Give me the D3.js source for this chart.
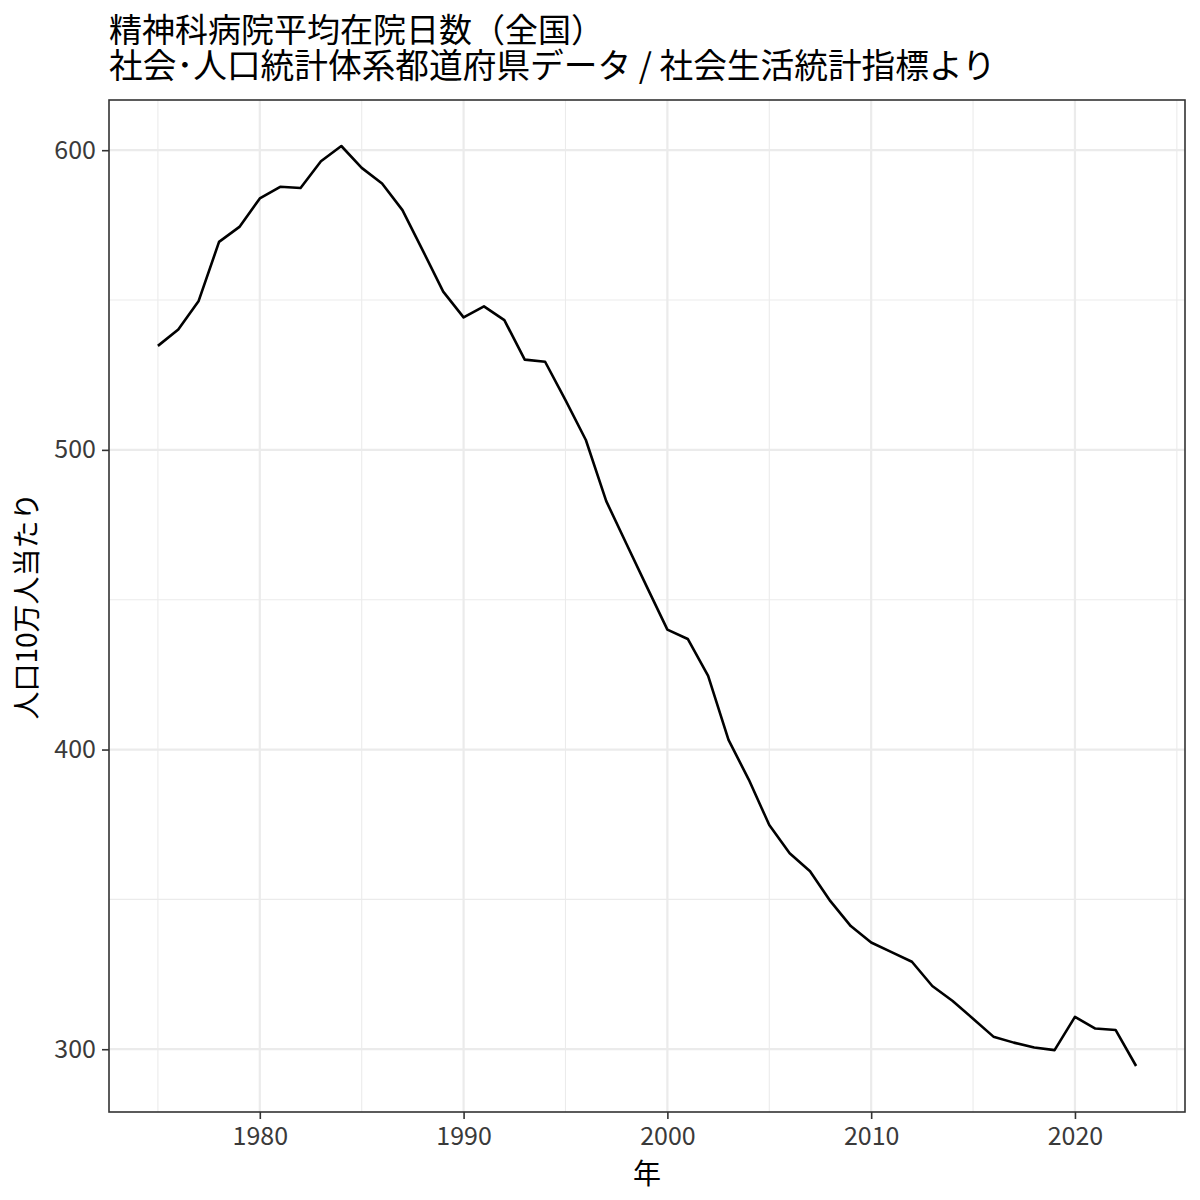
<!DOCTYPE html>
<html>
<head>
<meta charset="utf-8">
<script src="https://cdn.jsdelivr.net/npm/d3@7"></script>
<style>
  body { margin: 0; background: #fff; }
  text { font-family: "Noto Sans CJK JP", "Noto Sans", sans-serif; }
</style>
</head>
<body>
<div id="chart"></div>
<script>
const svgWidth = 1200;
const svgHeight = 1200;
const margin = {top: 100, right: 15, bottom: 88, left: 109};

const width = svgWidth - margin.left - margin.right;
const height = svgHeight - margin.top - margin.bottom;

// values
const years = [
    1975, 1976, 1977, 1978, 1979, 1980, 1981, 1982, 1983, 1984,
    1985, 1986, 1987, 1988, 1989, 1990, 1991, 1992, 1993, 1994,
    1995, 1996, 1997, 1998, 1999, 2000, 2001, 2002, 2003, 2004,
    2005, 2006, 2007, 2008, 2009, 2010, 2011, 2012, 2013, 2014,
    2015, 2016, 2017, 2018, 2019, 2020, 2021, 2022, 2023
];
const days = [
    534.7, 540.2, 549.7, 569.4, 574.4, 583.9, 587.8, 587.4, 596.3, 601.4,
    594.1, 588.9, 580.0, 566.5, 552.8, 544.2, 547.9, 543.3, 530.1, 529.4,
    516.6, 503.3, 482.9, 468.5, 454.2, 440.0, 436.9, 424.6, 403.2, 389.9,
    374.8, 365.4, 359.4, 349.4, 341.1, 335.6, 332.4, 329.2, 321.1, 316.1,
    310.2, 304.2, 302.2, 300.6, 299.7, 310.8, 306.9, 306.4, 294.4
];

const xMajor = [1980, 1990, 2000, 2010, 2020];
const xMinor = [1975, 1985, 1995, 2005, 2015, 2025];
const yMajor = [300, 400, 500, 600];
const yMinor = [350, 450, 550];

const titleLines = ["精神科病院平均在院日数（全国）", "社会･人口統計体系都道府県データ / 社会生活統計指標より"];
const xTitle = "年";
const yTitle = "人口10万人当たり";

// ggplot style 5% expansion of the data range
function expand(ext) {
    const pad = (ext[1] - ext[0]) * 0.05;
    return [ext[0] - pad, ext[1] + pad];
}

const x = d3.scaleLinear()
    .domain(expand(d3.extent(years)))
    .range([0, width]);

const y = d3.scaleLinear()
    .domain(expand(d3.extent(days)))
    .range([height, 0]);

const svg = d3.select("#chart")
    .append("svg")
    .attr("width", svgWidth)
    .attr("height", svgHeight);

const g = svg.append("g")
    .attr("transform", `translate(${margin.left},${margin.top})`);

// minor grid
g.selectAll(".xminor").data(xMinor).join("line")
    .attr("x1", d => x(d)).attr("x2", d => x(d))
    .attr("y1", 0).attr("y2", height)
    .attr("stroke", "#EBEBEB").attr("stroke-width", 1.1);
g.selectAll(".yminor").data(yMinor).join("line")
    .attr("x1", 0).attr("x2", width)
    .attr("y1", d => y(d)).attr("y2", d => y(d))
    .attr("stroke", "#EBEBEB").attr("stroke-width", 1.1);

// major grid
g.selectAll(".xmajor").data(xMajor).join("line")
    .attr("x1", d => x(d)).attr("x2", d => x(d))
    .attr("y1", 0).attr("y2", height)
    .attr("stroke", "#EBEBEB").attr("stroke-width", 2.2);
g.selectAll(".ymajor").data(yMajor).join("line")
    .attr("x1", 0).attr("x2", width)
    .attr("y1", d => y(d)).attr("y2", d => y(d))
    .attr("stroke", "#EBEBEB").attr("stroke-width", 2.2);

const line = d3.line()
    .x((_, i) => x(years[i]))
    .y(d => y(d));

g.append("path")
    .datum(days)
    .attr("d", line)
    .attr("fill", "none")
    .attr("stroke", "#000")
    .attr("stroke-width", 2.6)
    .attr("stroke-linejoin", "round");

// panel border
g.append("rect")
    .attr("width", width)
    .attr("height", height)
    .attr("fill", "none")
    .attr("stroke", "#333333")
    .attr("stroke-width", 1.6);

// axes
const xAxis = g.append("g")
    .attr("transform", `translate(0,${height})`)
    .call(d3.axisBottom(x).tickValues(xMajor).tickFormat(d3.format("d")).tickSize(7).tickPadding(8));

const yAxis = g.append("g")
    .call(d3.axisLeft(y).tickValues(yMajor).tickSize(7).tickPadding(6));

[xAxis, yAxis].forEach(a => {
    a.select(".domain").remove();
    a.selectAll(".tick line").attr("stroke", "#333333").attr("stroke-width", 1.6);
    a.selectAll(".tick text")
        .attr("fill", "#3a3a3a")
        .attr("font-size", "25px")
        .style("font-family", "'Noto Sans CJK JP', sans-serif");
});

// two-line title as one text block
const title = svg.append("text")
    .attr("fill", "#000");
title.selectAll("tspan").data(titleLines).join("tspan")
    .attr("x", margin.left)
    .attr("y", (_, i) => 42 + i * 36)
    .attr("font-size", (_, i) => i === 0 ? "33px" : "33.7px")
    .text(d => d);

svg.append("text")
    .attr("x", margin.left + width / 2)
    .attr("y", 1184)
    .attr("text-anchor", "middle")
    .attr("font-size", "28px")
    .attr("fill", "#000")
    .text(xTitle);

svg.append("text")
    .attr("transform", `translate(37,${margin.top + height / 2}) rotate(-90)`)
    .attr("text-anchor", "middle")
    .attr("font-size", "28px")
    .attr("fill", "#000")
    .text(yTitle);
</script>
</body>
</html>
